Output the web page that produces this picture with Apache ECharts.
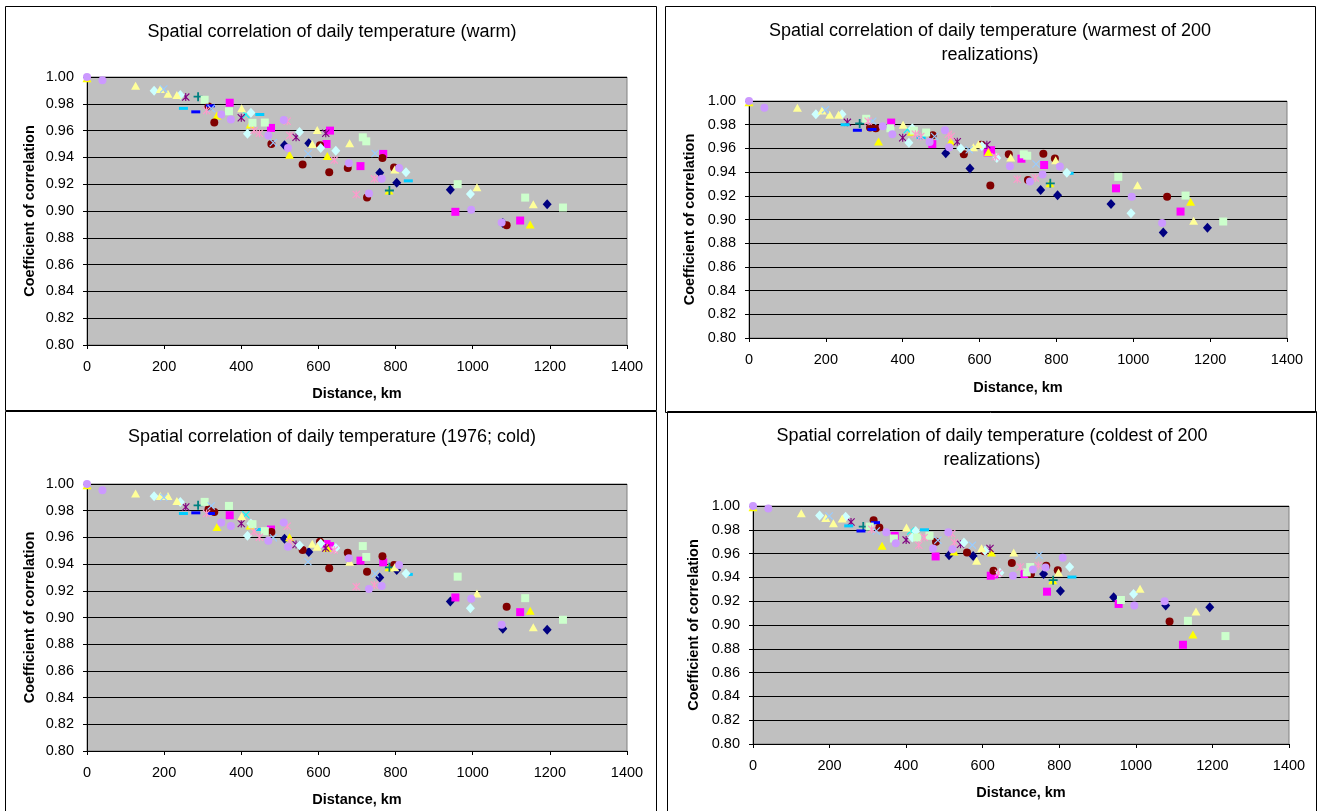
<!DOCTYPE html>
<html>
<head>
<meta charset="utf-8">
<script src="https://cdn.jsdelivr.net/npm/echarts@6/dist/echarts.min.js"></script>
<style>
html,body{margin:0;padding:0;background:#fff;}
#main{width:1318px;height:811px;}
</style>
</head>
<body>
<div id="main"></div>
<script>
// ---------------- DATA ----------------
const chartTitles = [
  'Spatial correlation of daily temperature (warm)',
  'Spatial correlation of daily temperature (warmest of 200\nrealizations)',
  'Spatial correlation of daily temperature (1976; cold)',
  'Spatial correlation of daily temperature (coldest of 200\nrealizations)'
];
const xAxisTitle = 'Distance, km';
const yAxisTitle = 'Coefficient of correlation';
const stationNames = ['Station 1','Station 2','Station 3','Station 4','Station 5','Station 6','Station 7','Station 8',
  'Station 9','Station 10','Station 11','Station 12','Station 13','Station 14','Station 15'];

// distance of each station pair (km)
const distKm = [0,0,40,126,174,190,199,210,233,242,250,256,282,288,305,310,315,320,322,330,
  337,348,368,370,373,400,401,412,416,423,425,429,433,447,448,461,470,477,478,483,
  510,512,519,521,525,526,542,551,559,573,575,584,597,604,606,619,621,623,628,630,
  641,645,676,679,681,698,709,715,724,726,731,745,747,759,764,766,768,783,784,796,
  798,803,809,827,833,942,955,961,994,996,1011,1075,1078,1088,1123,1136,1149,1157,1193,1234];
// which station (series) each pair belongs to
const pairStation = [14,2,14,11,9,11,12,11,11,9,8,4,7,6,10,13,5,7,12,5,
  2,14,10,1,14,4,11,3,9,2,9,10,13,13,8,10,14,1,5,12,
  14,0,13,14,2,13,4,9,5,12,0,11,11,5,9,4,1,2,5,1,
  13,9,5,14,11,13,1,10,10,5,14,13,12,0,14,5,1,2,6,5,
  11,0,14,9,8,0,1,10,9,14,11,14,0,5,1,10,2,11,0,10];

const corrWarm = [1.000,0.999,0.9975,0.9935,0.9898,0.991,0.991,0.9875,0.9865,0.9865,
  0.9766,0.985,0.974,0.9853,0.983,0.975,0.978,0.9785,0.9765,0.966,
  0.9713,0.972,0.9744,0.9808,0.9683,0.9696,0.9766,0.972,0.9577,0.9645,
  0.9733,0.9658,0.960,0.958,0.972,0.966,0.9564,0.962,0.950,0.951,
  0.968,0.949,0.967,0.947,0.942,0.9564,0.955,0.959,0.9347,0.9427,
  0.9506,0.950,0.9605,0.949,0.947,0.958,0.950,0.941,0.929,0.960,
  0.938,0.945,0.932,0.9357,0.9506,0.9123,0.9335,0.955,0.952,0.910,
  0.913,0.924,0.943,0.9285,0.924,0.9395,0.9426,0.9153,0.9153,0.9325,
  0.931,0.921,0.932,0.929,0.9225,0.9158,0.8994,0.920,0.9126,0.901,
  0.9178,0.8915,0.891,0.8894,0.8929,0.910,0.890,0.905,0.905,0.9026];

const corrWarmest = [1.000,0.999,0.9944,0.9944,0.9888,0.992,0.9927,0.9885,0.9885,0.9888,
  0.980,0.982,0.9753,0.981,0.985,0.983,0.9776,0.976,0.983,0.977,
  0.9658,0.9787,0.977,0.9818,0.972,0.969,0.980,0.976,0.9647,0.974,
  0.977,0.975,0.972,0.970,0.969,0.9734,0.9655,0.9636,0.971,0.970,
  0.9754,0.956,0.972,0.961,0.9658,0.970,0.9656,0.960,0.955,0.9588,
  0.943,0.961,0.9636,0.963,0.962,0.963,0.9566,0.957,0.9286,0.9585,
  0.953,0.952,0.955,0.945,0.9524,0.934,0.9513,0.955,0.9538,0.9333,
  0.932,0.935,0.9468,0.925,0.938,0.9555,0.946,0.9305,0.9305,0.9515,
  0.950,0.9204,0.9448,0.9395,0.939,0.913,0.9263,0.936,0.9053,0.9193,
  0.929,0.897,0.889,0.9193,0.9067,0.9202,0.915,0.899,0.893,0.8983];

const corrCold1976 = [1.000,0.999,0.9953,0.9928,0.9908,0.991,0.990,0.991,0.9873,0.9866,
  0.9779,0.9828,0.9784,0.984,0.9866,0.9779,0.981,0.9779,0.9836,0.979,
  0.9677,0.9711,0.9836,0.9766,0.9686,0.9704,0.9759,0.977,0.9612,0.969,
  0.9705,0.9699,0.9642,0.9602,0.9659,0.9647,0.9575,0.9659,0.964,0.9597,
  0.9711,0.959,0.9684,0.953,0.9602,0.9567,0.9547,0.9542,0.9505,0.9418,
  0.949,0.9552,0.953,0.9567,0.9555,0.952,0.955,0.9522,0.9368,0.9535,
  0.9505,0.952,0.9485,0.9443,0.9418,0.9231,0.9426,0.9535,0.9453,0.9343,
  0.9214,0.9243,0.9328,0.930,0.9236,0.9458,0.9413,0.9376,0.9376,0.9393,
  0.9376,0.9356,0.9393,0.933,0.9323,0.912,0.915,0.9306,0.907,0.914,
  0.918,0.8945,0.8915,0.908,0.904,0.9145,0.905,0.8927,0.8908,0.8983];

const corrColdest = [1.000,0.999,0.9978,0.9939,0.992,0.990,0.9916,0.9855,0.9894,0.991,
  0.9833,0.9866,0.979,0.9827,0.9827,0.9805,0.988,0.986,0.979,0.9819,
  0.9665,0.978,0.9727,0.9749,0.9688,0.9715,0.9819,0.979,0.9735,0.979,
  0.979,0.9735,0.967,0.9735,0.980,0.975,0.9643,0.9576,0.970,0.9713,
  0.978,0.9587,0.9768,0.9637,0.9618,0.9693,0.9679,0.9693,0.961,0.9671,
  0.958,0.954,0.9646,0.962,0.9623,0.9643,0.9414,0.961,0.9456,0.9425,
  0.9435,0.944,0.952,0.9414,0.961,0.9487,0.9428,0.9442,0.9487,0.9428,
  0.9466,0.950,0.9587,0.9428,0.9484,0.9498,0.928,0.9377,0.9377,0.946,
  0.9442,0.9286,0.9565,0.9487,0.9403,0.9233,0.9177,0.921,0.926,0.9163,
  0.9305,0.920,0.9163,0.903,0.8834,0.9035,0.892,0.9113,0.915,0.8907];

const xMin = 0, xMax = 1400, xStep = 200;
const yMin = 0.80, yMax = 1.00, yStep = 0.02;

// ---------------- STYLE ----------------
const FONT = 'Liberation Sans, Arial, sans-serif';
const stationColors = ['#000080','#FF00FF','#FFFF00','#00FFFF','#800080','#800000','#008080','#0000FF',
  '#00CCFF','#CCFFFF','#CCFFCC','#FFFF99','#99CCFF','#FF99CC','#CC99FF'];
const P_X = 'path://M0,1L1,0L5,4L9,0L10,1L6,5L10,9L9,10L5,6L1,10L0,9L4,5Z';
const P_STAR = 'path://M0,1L1,0L5,4L9,0L10,1L6,5L10,9L9,10L5,6L1,10L0,9L4,5Z M4.3,0H5.7V10H4.3Z';
const P_PLUS = 'path://M4,0H6V4H10V6H6V10H4V6H0V4H4Z';
const P_DASH = 'path://M0,0H10V3H0Z';
const stationSymbols = ['diamond','rect','triangle',P_X,P_STAR,'circle',P_PLUS,P_DASH,P_DASH,
  'diamond','rect','triangle',P_X,P_STAR,'circle'];
const stationSizes = [[9,10],[8,8],[9,8],[8,8],[8,8],[8,8],[9,9],[9,3],[9,3],[9,10],[8,8],[9,8],[8,8],[8,8],[8,8]];

const panels = [
  {grid:{left:87, top:77, width:540, height:268}, title:{x:332, y:20}, yGap:50, xGap:41, values:corrWarm},
  {grid:{left:749, top:101, width:538, height:237}, title:{x:990, y:19}, yGap:52, xGap:42, values:corrWarmest},
  {grid:{left:87, top:484, width:540, height:267}, title:{x:332, y:425}, yGap:50, xGap:41, values:corrCold1976},
  {grid:{left:753, top:506, width:536, height:238}, title:{x:992, y:424}, yGap:52, xGap:41, values:corrColdest}
];
const frames = [
  {x:5.5, y:6.5, w:651, h:404},
  {x:665.5, y:6.5, w:650, h:406},
  {x:5.5, y:411.5, w:651, h:410},
  {x:667.5, y:411.5, w:649, h:410}
];

const option = {
  animation:false,
  backgroundColor:'#ffffff',
  title:[], grid:[], xAxis:[], yAxis:[], series:[],
  graphic: frames.map(f => ({type:'rect', silent:true, z:100,
    shape:{x:f.x, y:f.y, width:f.w, height:f.h},
    style:{fill:'none', stroke:'#000', lineWidth:1}}))
};

panels.forEach((p, gi) => {
  option.title.push({
    text: chartTitles[gi], left: p.title.x, top: p.title.y, textAlign:'center', padding:0,
    textStyle:{fontFamily:FONT, fontSize:18, fontWeight:'normal', color:'#000', lineHeight:24}
  });
  option.grid.push(Object.assign({show:true, backgroundColor:'#C0C0C0', borderColor:'#808080', borderWidth:1}, p.grid));
  option.xAxis.push({
    gridIndex:gi, type:'value', min:xMin, max:xMax, interval:xStep,
    name:xAxisTitle, nameLocation:'middle', nameGap:p.xGap,
    nameTextStyle:{fontFamily:FONT, fontSize:14.5, fontWeight:'bold', color:'#000'},
    axisLine:{show:true, onZero:false, lineStyle:{color:'#000', width:1}},
    axisTick:{show:true, length:4, lineStyle:{color:'#000'}},
    axisLabel:{fontFamily:FONT, fontSize:14.5, color:'#000', margin:14, formatter:v => String(v)},
    splitLine:{show:false}
  });
  option.yAxis.push({
    gridIndex:gi, type:'value', min:yMin, max:yMax, interval:yStep,
    name:yAxisTitle, nameLocation:'middle', nameGap:p.yGap,
    nameTextStyle:{fontFamily:FONT, fontSize:14.5, fontWeight:'bold', color:'#000'},
    axisLine:{show:true, onZero:false, lineStyle:{color:'#000', width:1}},
    axisTick:{show:true, length:4, lineStyle:{color:'#000'}},
    axisLabel:{fontFamily:FONT, fontSize:14.5, color:'#000', margin:13, formatter:v => v.toFixed(2)},
    splitLine:{show:true, lineStyle:{color:'#000', width:1}}
  });
  stationNames.forEach((name, si) => {
    const data = [];
    distKm.forEach((d, k) => { if (pairStation[k] === si) data.push([d, p.values[k]]); });
    option.series.push({
      type:'scatter', name:name, xAxisIndex:gi, yAxisIndex:gi, data:data,
      symbol:stationSymbols[si], symbolSize:stationSizes[si],
      itemStyle:{color:stationColors[si], opacity:1},
      z: 2 + si * 0.01
    });
  });
});

const chart = echarts.init(document.getElementById('main'), null, {renderer:'canvas'});
chart.setOption(option);
</script>
</body>
</html>
